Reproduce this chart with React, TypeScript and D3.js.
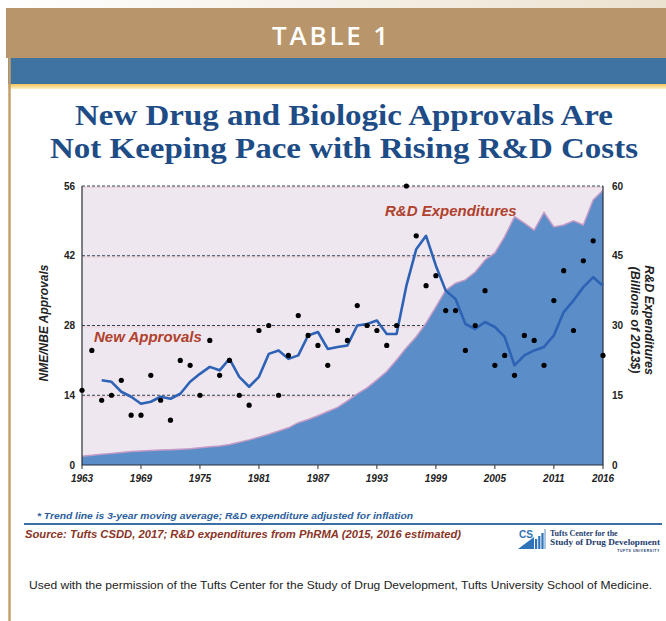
import * as d3 from "d3";
import { useEffect, useRef } from "react";

// values
const FIRST_YEAR = 1963;
const approvals = [
  15, 23, 13, 14, 17, 10, 10, 18, 13, 9, 21, 20, 14, 25, 18, 21, 14, 12, 27, 28,
  14, 22, 30, 26, 24, 20, 27, 25, 32, 28, 27, 24, 28, 56, 46, 36, 38, 31, 31, 23,
  28, 35, 20, 22, 18, 26, 25, 20, 33, 39, 27, 41, 45, 22,
];
// 3-year moving average, first point is 1965
const TREND_START = 1965;
const trend = [
  17.0, 16.7, 14.7, 13.7, 12.3, 12.7, 13.7, 13.3, 14.3, 16.7, 18.3, 19.7, 19.0,
  21.3, 17.7, 15.7, 17.7, 22.3, 23.0, 21.3, 22.0, 26.0, 26.7, 23.3, 23.7, 24.0,
  28.0, 28.3, 29.0, 26.3, 26.3, 36.0, 43.3, 46.0, 40.0, 35.0, 33.3, 28.3, 27.3,
  28.7, 27.7, 25.7, 20.0, 22.0, 23.0, 23.7, 26.0, 30.7, 33.0, 35.7, 37.7, 36.0,
];
// R&D expenditures, billions of 2013$
const rdSpend = [
  1.9, 2.1, 2.3, 2.5, 2.7, 2.9, 3.0, 3.1, 3.2, 3.3, 3.4, 3.5, 3.7, 3.9, 4.1, 4.4,
  4.9, 5.4, 6.0, 6.6, 7.3, 8.0, 9.1, 9.8, 10.6, 11.5, 12.4, 13.8, 15.3, 16.6,
  18.3, 20.1, 22.6, 25.2, 27.6, 30.5, 34.0, 37.6, 39.1, 39.8, 41.5, 44.1, 45.6,
  49.1, 53.4, 52.0, 50.5, 54.3, 51.2, 51.6, 52.5, 51.6, 57.0, 59.1,
];
const yearTicks = [1963, 1969, 1975, 1981, 1987, 1993, 1999, 2005, 2011, 2016];
const leftTicks = [0, 14, 28, 42, 56];
const rightTicks = [0, 15, 30, 45, 60];

const WIDTH = 666;
const HEIGHT = 621;
const SANS = "'Liberation Sans', Arial, sans-serif";
const SERIF = "'Liberation Serif', 'Times New Roman', serif";

const App = () => {
  const svgRef = useRef<SVGSVGElement>(null);

  const drawFrame = (svg) => {
    const defs = svg.append("defs");
    const topGrad = defs.append("linearGradient").attr("id", "topGrad");
    topGrad.append("stop").attr("offset", "0%").attr("stop-color", "#ffffff");
    topGrad.append("stop").attr("offset", "100%").attr("stop-color", "#ece2d0");
    const yel = defs
      .append("linearGradient")
      .attr("id", "yel")
      .attr("x1", 0)
      .attr("x2", 0)
      .attr("y1", 0)
      .attr("y2", 1);
    yel.append("stop").attr("offset", "0%").attr("stop-color", "#f6c457");
    yel.append("stop").attr("offset", "100%").attr("stop-color", "#fdf0c8");

    svg.append("rect").attr("width", WIDTH).attr("height", HEIGHT).attr("fill", "#fff");
    svg.append("rect").attr("width", WIDTH).attr("height", 9).attr("fill", "url(#topGrad)");
    svg.append("rect").attr("x", 6).attr("y", 8).attr("width", 660).attr("height", 50).attr("fill", "#b8956a");
    svg
      .append("text")
      .attr("x", 330)
      .attr("y", 45)
      .attr("text-anchor", "middle")
      .attr("fill", "#fff")
      .attr("font-family", "'Open Sans', sans-serif")
      .attr("font-weight", 600)
      .attr("font-size", 26)
      .attr("textLength", 116)
      .attr("lengthAdjust", "spacing")
      .text("TABLE 1");
    svg.append("rect").attr("x", 8).attr("y", 58).attr("width", 658).attr("height", 26).attr("fill", "#3f74a1");
    svg.append("rect").attr("x", 8).attr("y", 84).attr("width", 658).attr("height", 5).attr("fill", "url(#yel)");
    svg
      .append("line")
      .attr("x1", 9.5)
      .attr("x2", 9.5)
      .attr("y1", 58)
      .attr("y2", HEIGHT)
      .attr("stroke", "#c49f6e")
      .attr("stroke-width", 2.5);

    const title = [
      { t: "New Drug and Biologic Approvals Are", y: 125, w: 538 },
      { t: "Not Keeping Pace with Rising R&D Costs", y: 158, w: 588 },
    ];
    title.forEach((d) => {
      svg
        .append("text")
        .attr("x", 344)
        .attr("y", d.y)
        .attr("text-anchor", "middle")
        .attr("fill", "#1d4c86")
        .attr("font-family", SERIF)
        .attr("font-weight", "bold")
        .attr("font-size", 29)
        .attr("textLength", d.w)
        .attr("lengthAdjust", "spacingAndGlyphs")
        .text(d.t);
    });
  };

  const drawChart = (svg) => {
    const x = d3.scaleLinear().domain([FIRST_YEAR, 2016]).range([82, 603]);
    const yL = d3.scaleLinear().domain([0, 56]).range([465, 186]);
    const yR = d3.scaleLinear().domain([0, 60]).range([465, 186]);

    // plot background
    svg
      .append("rect")
      .attr("x", x.range()[0])
      .attr("y", yL(56))
      .attr("width", x.range()[1] - x.range()[0])
      .attr("height", yL(0) - yL(56))
      .attr("fill", "#eee7f0");

    // grid lines
    leftTicks.slice(1).forEach((v) => {
      svg
        .append("line")
        .attr("x1", x.range()[0])
        .attr("x2", x.range()[1])
        .attr("y1", yL(v) + 1.5)
        .attr("y2", yL(v) + 1.5)
        .attr("stroke", "#efd2d6")
        .attr("stroke-width", 1);
      svg
        .append("line")
        .attr("x1", x.range()[0])
        .attr("x2", x.range()[1])
        .attr("y1", yL(v))
        .attr("y2", yL(v))
        .attr("stroke", "#2f4256")
        .attr("stroke-width", 1)
        .attr("stroke-dasharray", "3,2");
    });

    // R&D area
    const rd = rdSpend.map((v, i) => ({ year: FIRST_YEAR + i, value: v }));
    svg
      .append("path")
      .datum(rd)
      .attr("fill", "#5b8ec8")
      .attr(
        "d",
        d3
          .area()
          .x((d) => x(d.year))
          .y0(yR(0))
          .y1((d) => yR(d.value))
      );
    svg
      .append("path")
      .datum(rd)
      .attr("fill", "none")
      .attr("stroke", "#c49ac6")
      .attr("stroke-width", 1.5)
      .attr(
        "d",
        d3
          .line()
          .x((d) => x(d.year))
          .y((d) => yR(d.value))
      );

    // axes lines
    svg
      .append("path")
      .attr("d", `M${x.range()[0]},${yL(56)}V${yL(0)}H${x.range()[1]}V${yL(56)}`)
      .attr("fill", "none")
      .attr("stroke", "#2a2f3a")
      .attr("stroke-width", 1.2);
    yearTicks.forEach((yr) => {
      svg
        .append("line")
        .attr("x1", x(yr))
        .attr("x2", x(yr))
        .attr("y1", yL(0))
        .attr("y2", yL(0) + 4)
        .attr("stroke", "#2a2f3a");
      svg
        .append("text")
        .attr("x", x(yr))
        .attr("y", 482)
        .attr("text-anchor", "middle")
        .attr("font-family", SANS)
        .attr("font-weight", "bold")
        .attr("font-style", "italic")
        .attr("font-size", 10)
        .attr("fill", "#222")
        .text(yr);
    });
    leftTicks.forEach((v) => {
      svg
        .append("text")
        .attr("x", 75)
        .attr("y", yL(v) + 3.5)
        .attr("text-anchor", "end")
        .attr("font-family", SANS)
        .attr("font-weight", "bold")
        .attr("font-size", 10)
        .attr("fill", "#222")
        .text(v);
    });
    rightTicks.forEach((v) => {
      svg
        .append("text")
        .attr("x", 612)
        .attr("y", yR(v) + 3.5)
        .attr("font-family", SANS)
        .attr("font-weight", "bold")
        .attr("font-size", 10)
        .attr("fill", "#222")
        .text(v);
    });

    // axis titles
    svg
      .append("text")
      .attr("transform", "translate(48,323) rotate(-90)")
      .attr("text-anchor", "middle")
      .attr("font-family", SANS)
      .attr("font-weight", "bold")
      .attr("font-style", "italic")
      .attr("font-size", 12)
      .attr("fill", "#222")
      .text("NME/NBE Approvals");
    [
      { t: "R&D Expenditures", x: 645 },
      { t: "(Billions of 2013$)", x: 631 },
    ].forEach((d) => {
      svg
        .append("text")
        .attr("transform", `translate(${d.x},320) rotate(90)`)
        .attr("text-anchor", "middle")
        .attr("font-family", SANS)
        .attr("font-weight", "bold")
        .attr("font-style", "italic")
        .attr("font-size", 12.5)
        .attr("fill", "#222")
        .text(d.t);
    });

    // trend line
    const tr = trend.map((v, i) => ({ year: TREND_START + i, value: v }));
    svg
      .append("path")
      .datum(tr)
      .attr("fill", "none")
      .attr("stroke", "#2d62b5")
      .attr("stroke-width", 2.6)
      .attr("stroke-linejoin", "round")
      .attr(
        "d",
        d3
          .line()
          .x((d) => x(d.year))
          .y((d) => yL(d.value))
      );

    // approvals dots
    approvals.forEach((v, i) => {
      svg
        .append("circle")
        .attr("cx", x(FIRST_YEAR + i))
        .attr("cy", yL(v))
        .attr("r", 2.6)
        .attr("fill", "#000");
    });

    // series labels
    [
      { t: "New Approvals", x: 94, y: 342 },
      { t: "R&D Expenditures", x: 385, y: 216 },
    ].forEach((d) => {
      svg
        .append("text")
        .attr("x", d.x)
        .attr("y", d.y)
        .attr("font-family", SANS)
        .attr("font-weight", "bold")
        .attr("font-style", "italic")
        .attr("font-size", 15)
        .attr("fill", "#b0412c")
        .text(d.t);
    });
  };

  const drawFooter = (svg) => {
    svg
      .append("text")
      .attr("x", 37)
      .attr("y", 519)
      .attr("font-family", SANS)
      .attr("font-weight", "bold")
      .attr("font-style", "italic")
      .attr("font-size", 8.5)
      .attr("fill", "#2b5e9c")
      .attr("textLength", 376)
      .attr("lengthAdjust", "spacingAndGlyphs")
      .text("* Trend line is 3-year moving average; R&D expenditure adjusted for inflation");
    svg
      .append("line")
      .attr("x1", 24)
      .attr("x2", 662)
      .attr("y1", 524)
      .attr("y2", 524)
      .attr("stroke", "#3a6fa8")
      .attr("stroke-width", 2);
    svg
      .append("text")
      .attr("x", 25)
      .attr("y", 538)
      .attr("font-family", SANS)
      .attr("font-weight", "bold")
      .attr("font-style", "italic")
      .attr("font-size", 10)
      .attr("fill", "#8a3526")
      .attr("textLength", 436)
      .attr("lengthAdjust", "spacingAndGlyphs")
      .text("Source: Tufts CSDD, 2017; R&D expenditures from PhRMA (2015, 2016 estimated)");

    // logo
    const logo = svg.append("g").attr("transform", "translate(518,529)");
    logo.append("path").attr("d", "M0,20 L16,8 L16,20 Z").attr("fill", "#2f73b8");
    [0, 1, 2].forEach((i) => {
      logo
        .append("rect")
        .attr("x", 17 + i * 3.2)
        .attr("y", 4 + (2 - i) * 3)
        .attr("width", 2.2)
        .attr("height", 16 - (2 - i) * 3)
        .attr("fill", "#2f73b8");
    });
    logo
      .append("text")
      .attr("x", 1)
      .attr("y", 9)
      .attr("font-family", SANS)
      .attr("font-weight", "bold")
      .attr("font-size", 10)
      .attr("fill", "#2f73b8")
      .text("CS");
    logo.append("line").attr("x1", 27).attr("x2", 27).attr("y1", 0).attr("y2", 20).attr("stroke", "#2f73b8").attr("stroke-width", 0.8);
    logo
      .append("text")
      .attr("x", 32)
      .attr("y", 7)
      .attr("font-family", SERIF)
      .attr("font-weight", "bold")
      .attr("font-size", 8)
      .attr("fill", "#1d3d6e")
      .text("Tufts Center for the");
    logo
      .append("text")
      .attr("x", 32)
      .attr("y", 16)
      .attr("font-family", SERIF)
      .attr("font-weight", "bold")
      .attr("font-size", 8)
      .attr("fill", "#1d3d6e")
      .attr("textLength", 110)
      .attr("lengthAdjust", "spacingAndGlyphs")
      .text("Study of Drug Development");
    logo
      .append("text")
      .attr("x", 142)
      .attr("y", 23)
      .attr("text-anchor", "end")
      .attr("font-family", SANS)
      .attr("font-weight", "bold")
      .attr("font-size", 3.5)
      .attr("fill", "#1d3d6e")
      .attr("letter-spacing", 0.6)
      .text("TUFTS UNIVERSITY");

    svg
      .append("text")
      .attr("x", 29)
      .attr("y", 589)
      .attr("font-family", SANS)
      .attr("font-size", 10.5)
      .attr("fill", "#222")
      .attr("textLength", 623)
      .attr("lengthAdjust", "spacingAndGlyphs")
      .text(
        "Used with the permission of the Tufts Center for the Study of Drug Development, Tufts University School of Medicine."
      );
  };

  useEffect(() => {
    const svg = d3.select(svgRef.current);
    svg.selectAll("*").remove();
    drawFrame(svg);
    drawChart(svg);
    drawFooter(svg);
  }, []);

  return (
    <svg
      ref={svgRef}
      width={WIDTH}
      height={HEIGHT}
      style={{ position: "absolute", left: 0, top: 0, display: "block" }}
    ></svg>
  );
};

export default App;
